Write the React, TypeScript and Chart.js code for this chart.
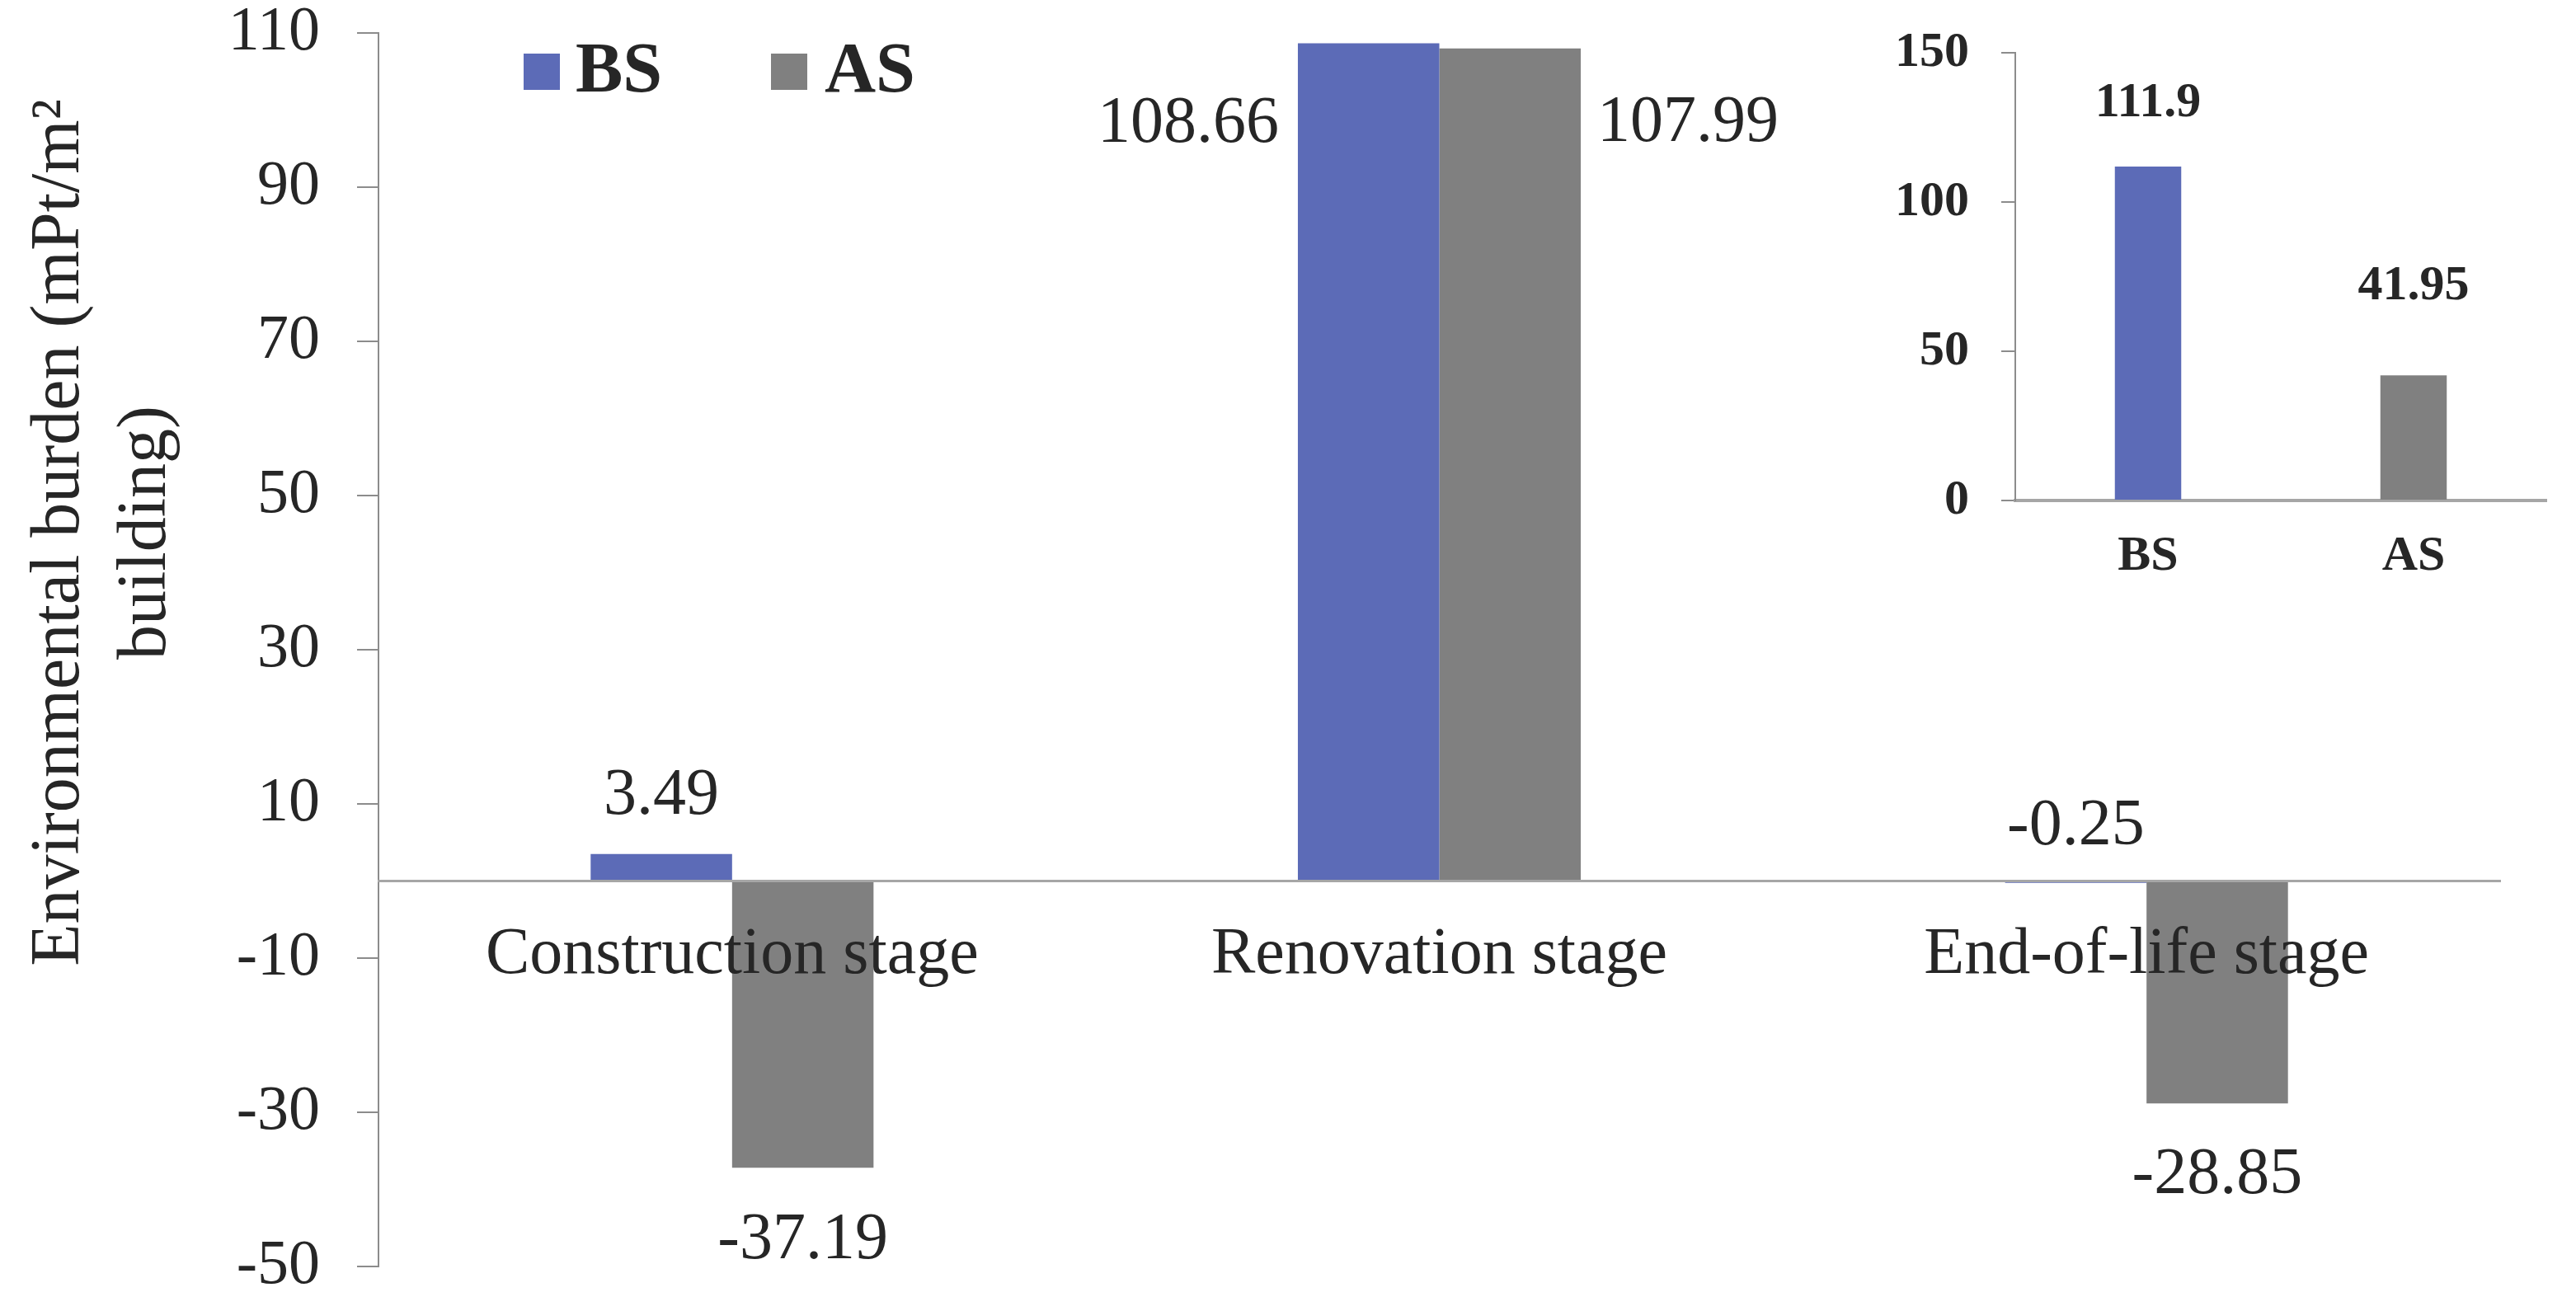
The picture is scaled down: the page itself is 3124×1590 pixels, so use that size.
import React, { useEffect, useRef } from 'react';
import { Chart, registerables } from 'chart.js';

Chart.register(...registerables);

// ---------- data ----------
const stages = ['Construction stage', 'Renovation stage', 'End-of-life stage'];
const seriesNames = ['BS', 'AS'];
const bsValues = [3.49, 108.66, -0.25];
const asValues = [-37.19, 107.99, -28.85];
const mainMin = -50;
const mainMax = 110;
const mainStep = 20;

const insetCategories = ['BS', 'AS'];
const insetValues = [111.9, 41.95];
const insetMin = 0;
const insetMax = 150;
const insetStep = 50;

const yTitleLines = ['Environmental burden (mPt/m\u00B2', 'building)'];

// ---------- styles ----------
const BLUE = '#5c6bb7';
const GRAY = '#808080';
const TEXT = '#262626';
const AXIS = '#8c8c8c';
const ZERO = '#a6a6a6';
const SERIF = "'Liberation Serif', 'Times New Roman', Times, serif";

// label placement for each bar (dataset -> index)
const mainLabelSpecs = [
  [
    { side: 'center', gap: 0, dy: -70 },
    { side: 'left', gap: 23, dy: 98 },
    { side: 'center', gap: 0, dy: -68 },
  ],
  [
    { side: 'center', gap: 0, dy: 89 },
    { side: 'right', gap: 20, dy: 91 },
    { side: 'center', gap: 0, dy: 88 },
  ],
];
const insetLabelSpecs = [[
  { side: 'center', gap: 0, dy: -76 },
  { side: 'center', gap: 0, dy: -108 },
]];

const valueLabels = {
  id: 'valueLabels',
  afterDatasetsDraw(chart: any, _args: any, opts: any) {
    const { ctx } = chart;
    ctx.save();
    ctx.font = opts.font;
    ctx.fillStyle = TEXT;
    ctx.textBaseline = 'middle';
    chart.data.datasets.forEach((ds: any, di: number) => {
      const meta = chart.getDatasetMeta(di);
      meta.data.forEach((bar: any, i: number) => {
        const spec = opts.specs[di][i];
        const p = bar.getProps(['x', 'y', 'width'], true);
        let x = p.x;
        ctx.textAlign = 'center';
        if (spec.side === 'left') {
          x = p.x - p.width / 2 - spec.gap;
          ctx.textAlign = 'right';
        } else if (spec.side === 'right') {
          x = p.x + p.width / 2 + spec.gap;
          ctx.textAlign = 'left';
        }
        ctx.fillText(String(ds.data[i]), x, p.y + spec.dy);
      });
    });
    ctx.restore();
  },
};

const customLegend = {
  id: 'customLegend',
  afterDraw(chart: any) {
    const { ctx } = chart;
    const boxX = [635, 935];
    const textX = [698, 1000];
    ctx.save();
    ctx.font = `bold 86px ${SERIF}`;
    ctx.textBaseline = 'middle';
    ctx.textAlign = 'left';
    chart.data.datasets.forEach((ds: any, i: number) => {
      ctx.fillStyle = ds.backgroundColor;
      ctx.fillRect(boxX[i], 65, 44, 44);
      ctx.fillStyle = TEXT;
      ctx.fillText(ds.label, textX[i], 89);
    });
    ctx.restore();
  },
};

const yTitle = {
  id: 'yTitle',
  afterDraw(chart: any) {
    const { ctx } = chart;
    const xs = [73, 178];
    ctx.save();
    ctx.font = `84px ${SERIF}`;
    ctx.fillStyle = TEXT;
    ctx.textAlign = 'center';
    ctx.textBaseline = 'middle';
    yTitleLines.forEach((line, k) => {
      ctx.save();
      ctx.translate(xs[k], 646);
      ctx.rotate(-Math.PI / 2);
      ctx.fillText(line, 0, 0);
      ctx.restore();
    });
    ctx.restore();
  },
};

export default function App() {
  const mainRef = useRef<HTMLCanvasElement>(null);
  const insetRef = useRef<HTMLCanvasElement>(null);

  useEffect(() => {
    const main = new Chart(mainRef.current as HTMLCanvasElement, {
      type: 'bar',
      data: {
        labels: stages,
        datasets: [
          { label: seriesNames[0], data: bsValues, backgroundColor: BLUE },
          { label: seriesNames[1], data: asValues, backgroundColor: GRAY },
        ],
      },
      options: {
        responsive: false,
        animation: false,
        devicePixelRatio: 1,
        layout: { padding: { left: 0, right: 92, top: 40, bottom: 54 } },
        datasets: { bar: { barPercentage: 1, categoryPercentage: 0.4 } },
        plugins: {
          legend: { display: false },
          tooltip: { enabled: false },
          valueLabels: { font: `80px ${SERIF}`, specs: mainLabelSpecs },
        } as any,
        scales: {
          x: {
            position: { y: 0 } as any,
            grid: { display: false, drawTicks: false },
            border: { display: true, color: ZERO, width: 3, z: 1 },
            ticks: {
              z: 1,
              font: { family: SERIF, size: 80 },
              color: TEXT,
              padding: 42,
              maxRotation: 0,
              autoSkip: false,
            },
            afterFit: (s: any) => {
              s.paddingLeft = 0;
              s.paddingRight = 0;
            },
          },
          y: {
            min: mainMin,
            max: mainMax,
            ticks: {
              stepSize: mainStep,
              font: { family: SERIF, size: 76 },
              color: TEXT,
              padding: 45,
            },
            grid: {
              drawOnChartArea: false,
              drawTicks: true,
              tickLength: 26,
              color: AXIS,
              lineWidth: 2,
            },
            border: { display: true, color: AXIS, width: 2 },
            afterFit: (s: any) => {
              s.width = 459;
              s.paddingTop = 0;
              s.paddingBottom = 0;
            },
          },
        } as any,
      },
      plugins: [valueLabels, customLegend, yTitle],
    });

    const inset = new Chart(insetRef.current as HTMLCanvasElement, {
      type: 'bar',
      data: {
        labels: insetCategories,
        datasets: [
          { label: 'Total', data: insetValues, backgroundColor: [BLUE, GRAY] },
        ],
      },
      options: {
        responsive: false,
        animation: false,
        devicePixelRatio: 1,
        layout: { padding: { left: 0, right: 36, top: 64, bottom: 0 } },
        datasets: { bar: { barPercentage: 1, categoryPercentage: 0.25 } },
        plugins: {
          legend: { display: false },
          tooltip: { enabled: false },
          valueLabels: { font: `bold 60px ${SERIF}`, specs: insetLabelSpecs },
        } as any,
        scales: {
          x: {
            grid: { display: false, drawTicks: false },
            border: { display: true, color: ZERO, width: 4 },
            ticks: {
              font: { family: SERIF, size: 60, weight: 'bold' },
              color: TEXT,
              padding: 32,
              maxRotation: 0,
            },
            afterFit: (s: any) => {
              s.height = 113;
              s.paddingLeft = 0;
              s.paddingRight = 0;
            },
          },
          y: {
            min: insetMin,
            max: insetMax,
            ticks: {
              stepSize: insetStep,
              font: { family: SERIF, size: 60, weight: 'bold' },
              color: TEXT,
              padding: 39,
            },
            grid: {
              drawOnChartArea: false,
              drawTicks: true,
              tickLength: 17,
              color: AXIS,
              lineWidth: 2,
            },
            border: { display: true, color: AXIS, width: 2 },
            afterFit: (s: any) => {
              s.width = 194;
              s.paddingTop = 0;
              s.paddingBottom = 0;
            },
          },
        } as any,
      },
      plugins: [valueLabels],
    });

    return () => {
      main.destroy();
      inset.destroy();
    };
  }, []);

  return (
    <div
      style={{
        position: 'absolute',
        left: 0,
        top: 0,
        width: 3124,
        height: 1590,
        background: '#ffffff',
        overflow: 'hidden',
      }}
    >
      <canvas
        ref={mainRef}
        width={3124}
        height={1590}
        style={{ position: 'absolute', left: 0, top: 0, width: 3124, height: 1590 }}
      />
      <canvas
        ref={insetRef}
        width={874}
        height={720}
        style={{ position: 'absolute', left: 2250, top: 0, width: 874, height: 720 }}
      />
    </div>
  );
}
